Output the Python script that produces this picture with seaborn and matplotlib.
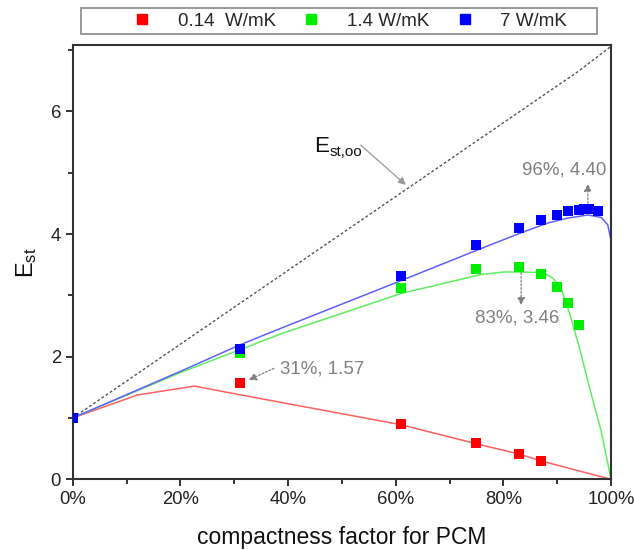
import matplotlib
matplotlib.use("Agg")
import matplotlib.pyplot as plt
import matplotlib.patches as mpatches
from matplotlib.lines import Line2D
from matplotlib.ticker import MultipleLocator, PercentFormatter
import seaborn as sns
import pandas as pd

# measured storage effectiveness (markers)
k014_x = [0, 31, 61, 75, 83, 87]
k014_y = [1.0, 1.57, 0.90, 0.59, 0.41, 0.30]
k14_x = [0, 31, 61, 75, 83, 87, 90, 92, 94]
k14_y = [1.0, 2.06, 3.12, 3.43, 3.46, 3.35, 3.14, 2.87, 2.51]
k7_x = [0, 31, 61, 75, 83, 87, 90, 92, 94, 95, 96, 97.5]
k7_y = [1.0, 2.12, 3.31, 3.82, 4.09, 4.23, 4.31, 4.37, 4.39, 4.40, 4.40, 4.38]

# model curves
fit014_x = [0, 12, 22.6, 31, 61, 75, 83, 87, 100]
fit014_y = [1.0, 1.375, 1.52, 1.38, 0.89, 0.58, 0.41, 0.30, 0.0]
fit14_x = [0, 20, 31, 38.6, 61, 75.9, 80, 83.3, 87.3, 89.2, 90.7, 92.3, 93.9, 96.3, 98.2, 100]
fit14_y = [1.0, 1.74, 2.11, 2.37, 3.03, 3.34, 3.38, 3.38, 3.37, 3.28, 3.12, 2.71, 2.22, 1.40, 0.78, 0.0]
fit7_x = [0, 20, 31, 38.6, 61, 75.2, 83.3, 88.3, 92, 95.7, 98.2, 99.4, 100]
fit7_y = [1.0, 1.76, 2.19, 2.46, 3.24, 3.74, 4.02, 4.18, 4.26, 4.31, 4.27, 4.15, 3.90]
ideal_x = [0, 93.9, 100]
ideal_y = [1.0, 6.65, 7.06]

labels = ["0.14  W/mK", "1.4 W/mK", "7 W/mK"]
colors = ["#ff0000", "#00ee00", "#0000ff"]
line_colors = ["#ff6060", "#60ee60", "#6060ff"]

sns.set_style("ticks")
plt.rcParams["font.family"] = ["Liberation Sans", "DejaVu Sans"]
plt.rcParams["mathtext.fontset"] = "custom"
plt.rcParams["mathtext.rm"] = "Liberation Sans"
plt.rcParams["mathtext.it"] = "Liberation Sans"

fig = plt.figure(figsize=(6.34, 5.5), dpi=100)
ax = fig.add_axes([0.1147, 0.1285, 0.8490, 0.7895])

sns.lineplot(x=ideal_x, y=ideal_y, ax=ax, color="#555555", lw=1.0,
             linestyle=(0, (2.0, 1.6)), sort=False, estimator=None)

fits = [(fit014_x, fit014_y), (fit14_x, fit14_y), (fit7_x, fit7_y)]
for (fx, fy), c in zip(fits, line_colors):
    sns.lineplot(x=fx, y=fy, ax=ax, color=c, lw=1.1, sort=False, estimator=None)

meas = [(k014_x, k014_y), (k14_x, k14_y), (k7_x, k7_y)]
for (mx, my), c in zip(meas, colors):
    df = pd.DataFrame({"x": mx, "y": my})
    sns.scatterplot(data=df, x="x", y="y", ax=ax, color=c, marker="s",
                    s=55, linewidth=0, zorder=5)

ax.set_xlim(0, 100)
ax.set_ylim(0, 7.08)
ax.xaxis.set_major_locator(MultipleLocator(20))
ax.xaxis.set_minor_locator(MultipleLocator(10))
ax.xaxis.set_major_formatter(PercentFormatter(xmax=100, decimals=0))
ax.yaxis.set_major_locator(MultipleLocator(2))
ax.yaxis.set_minor_locator(MultipleLocator(1))
ax.tick_params(which="major", direction="out", length=5, width=1.3,
               labelsize=13.3, colors="#222222", top=False, right=False)
ax.tick_params(which="minor", direction="out", length=3.5, width=1.3,
               top=False, right=False)
for sp in ax.spines.values():
    sp.set_visible(True)
    sp.set_linewidth(1.5)
    sp.set_color("#333333")

ax.set_xlabel("compactness factor for PCM", fontsize=16.5, labelpad=13, color="#111111")
ax.set_ylabel(r"$\mathrm{E_{st}}$", fontsize=17, labelpad=8, color="#111111")

gray = "#808080"
# E_st,oo label with subscript, arrow onto the ideal line
ax.text(44.8, 5.34, "E", fontsize=16, color="#111111", ha="left", va="baseline")
ax.text(47.8, 5.27, "st,oo", fontsize=11, color="#111111", ha="left", va="baseline")
ax.annotate("", xy=(61.9, 4.80), xytext=(53.5, 5.45),
            arrowprops=dict(arrowstyle="-|>", color="#999999", lw=0.9,
                            shrinkA=0, shrinkB=0, mutation_scale=11))

dotted = (0, (1.5, 1.5))
ax.text(91.3, 5.04, "96%, 4.40", fontsize=13.5, color=gray, ha="center", va="center")
ax.annotate("", xy=(95.7, 4.82), xytext=(95.7, 4.50),
            arrowprops=dict(arrowstyle="-|>", color=gray, lw=0.9,
                            linestyle=dotted, shrinkA=0, shrinkB=0,
                            mutation_scale=11))

ax.text(82.5, 2.63, "83%, 3.46", fontsize=13.5, color=gray, ha="center", va="center")
ax.annotate("", xy=(83.3, 2.84), xytext=(83.3, 3.37),
            arrowprops=dict(arrowstyle="-|>", color=gray, lw=0.9,
                            linestyle=dotted, shrinkA=0, shrinkB=0,
                            mutation_scale=11))

ax.text(46.3, 1.80, "31%, 1.57", fontsize=13.5, color=gray, ha="center", va="center")
ax.annotate("", xy=(32.7, 1.62), xytext=(37.4, 1.81),
            arrowprops=dict(arrowstyle="-|>", color=gray, lw=0.9,
                            linestyle=dotted, shrinkA=0, shrinkB=0,
                            mutation_scale=11))

# legend box across the top
fig.patches.append(mpatches.Rectangle((81 / 634, 1 - 34 / 550), 516 / 634, 26 / 550,
                                      transform=fig.transFigure, fill=False,
                                      edgecolor="#888888", lw=1.2))
handles = [Line2D([], [], marker="s", color=c, linestyle="none", markersize=6.5)
           for c in colors]
fig.legend(handles, labels, loc="center", bbox_to_anchor=(349 / 634, 1 - 21 / 550),
           ncol=3, frameon=False, fontsize=13.5, handletextpad=1.3,
           columnspacing=1.3, handlelength=1.2)

fig.savefig("out.png", dpi=100)
